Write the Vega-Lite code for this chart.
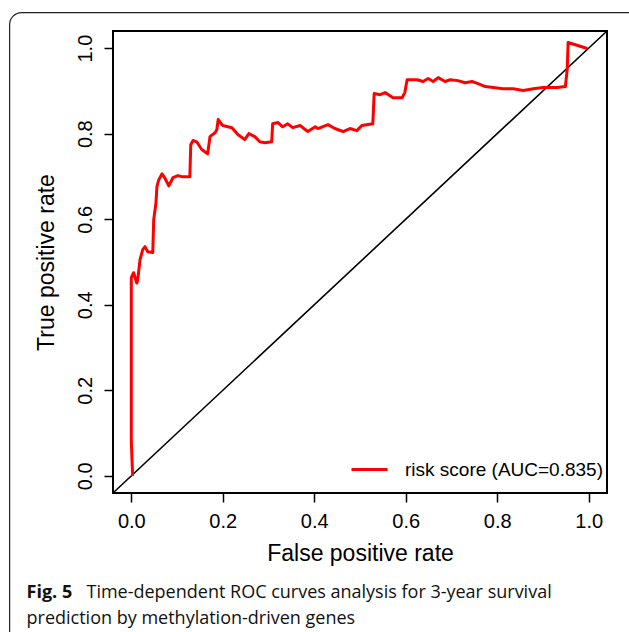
{
  "$schema": "https://vega.github.io/schema/vega-lite/v6.json",
  "autosize": "none",
  "width": 494,
  "height": 462,
  "padding": {"left": 113, "top": 31, "right": 22, "bottom": 139},
  "background": "white",
  "config": {
    "view": {"stroke": "black", "strokeWidth": 2},
    "font": "Liberation Sans",
    "axis": {"grid": false, "domain": false, "tickColor": "black", "tickWidth": 1.5, "tickSize": 9, "labelColor": "black", "labelFont": "Liberation Sans", "labelFontSize": 20, "titleFont": "Liberation Sans", "titleFontSize": 23, "titleFontWeight": "normal", "titleColor": "black"}
  },
  "datasets": {
    "roc": [
      {"i": 1, "fpr": 0.003, "tpr": 0.0},
      {"i": 2, "fpr": 0.0, "tpr": 0.08},
      {"i": 3, "fpr": 0.0, "tpr": 0.463},
      {"i": 4, "fpr": 0.005, "tpr": 0.475},
      {"i": 5, "fpr": 0.012, "tpr": 0.451},
      {"i": 6, "fpr": 0.014, "tpr": 0.458},
      {"i": 7, "fpr": 0.019, "tpr": 0.505},
      {"i": 8, "fpr": 0.025, "tpr": 0.529},
      {"i": 9, "fpr": 0.03, "tpr": 0.536},
      {"i": 10, "fpr": 0.036, "tpr": 0.524},
      {"i": 11, "fpr": 0.047, "tpr": 0.522},
      {"i": 12, "fpr": 0.049, "tpr": 0.599},
      {"i": 13, "fpr": 0.054, "tpr": 0.639},
      {"i": 14, "fpr": 0.056, "tpr": 0.676},
      {"i": 15, "fpr": 0.06, "tpr": 0.692},
      {"i": 16, "fpr": 0.067, "tpr": 0.706},
      {"i": 17, "fpr": 0.073, "tpr": 0.697},
      {"i": 18, "fpr": 0.082, "tpr": 0.678},
      {"i": 19, "fpr": 0.091, "tpr": 0.697},
      {"i": 20, "fpr": 0.102, "tpr": 0.702},
      {"i": 21, "fpr": 0.113, "tpr": 0.699},
      {"i": 22, "fpr": 0.128, "tpr": 0.699},
      {"i": 23, "fpr": 0.13, "tpr": 0.774},
      {"i": 24, "fpr": 0.135, "tpr": 0.784},
      {"i": 25, "fpr": 0.143, "tpr": 0.781},
      {"i": 26, "fpr": 0.154, "tpr": 0.763},
      {"i": 27, "fpr": 0.167, "tpr": 0.753},
      {"i": 28, "fpr": 0.172, "tpr": 0.793},
      {"i": 29, "fpr": 0.183, "tpr": 0.802},
      {"i": 30, "fpr": 0.187, "tpr": 0.809},
      {"i": 31, "fpr": 0.19, "tpr": 0.833},
      {"i": 32, "fpr": 0.2, "tpr": 0.819},
      {"i": 33, "fpr": 0.22, "tpr": 0.814},
      {"i": 34, "fpr": 0.233, "tpr": 0.798},
      {"i": 35, "fpr": 0.248, "tpr": 0.786},
      {"i": 36, "fpr": 0.257, "tpr": 0.8},
      {"i": 37, "fpr": 0.27, "tpr": 0.793},
      {"i": 38, "fpr": 0.281, "tpr": 0.781},
      {"i": 39, "fpr": 0.292, "tpr": 0.779},
      {"i": 40, "fpr": 0.307, "tpr": 0.781},
      {"i": 41, "fpr": 0.309, "tpr": 0.823},
      {"i": 42, "fpr": 0.321, "tpr": 0.826},
      {"i": 43, "fpr": 0.331, "tpr": 0.816},
      {"i": 44, "fpr": 0.342, "tpr": 0.823},
      {"i": 45, "fpr": 0.353, "tpr": 0.814},
      {"i": 46, "fpr": 0.369, "tpr": 0.819},
      {"i": 47, "fpr": 0.386, "tpr": 0.805},
      {"i": 48, "fpr": 0.402, "tpr": 0.816},
      {"i": 49, "fpr": 0.408, "tpr": 0.812},
      {"i": 50, "fpr": 0.43, "tpr": 0.821},
      {"i": 51, "fpr": 0.445, "tpr": 0.812},
      {"i": 52, "fpr": 0.463, "tpr": 0.805},
      {"i": 53, "fpr": 0.478, "tpr": 0.812},
      {"i": 54, "fpr": 0.493, "tpr": 0.807},
      {"i": 55, "fpr": 0.504, "tpr": 0.819},
      {"i": 56, "fpr": 0.528, "tpr": 0.823},
      {"i": 57, "fpr": 0.531, "tpr": 0.894},
      {"i": 58, "fpr": 0.544, "tpr": 0.891},
      {"i": 59, "fpr": 0.555, "tpr": 0.896},
      {"i": 60, "fpr": 0.572, "tpr": 0.884},
      {"i": 61, "fpr": 0.592, "tpr": 0.884},
      {"i": 62, "fpr": 0.598, "tpr": 0.896},
      {"i": 63, "fpr": 0.603, "tpr": 0.926},
      {"i": 64, "fpr": 0.625, "tpr": 0.926},
      {"i": 65, "fpr": 0.638, "tpr": 0.922},
      {"i": 66, "fpr": 0.649, "tpr": 0.929},
      {"i": 67, "fpr": 0.66, "tpr": 0.922},
      {"i": 68, "fpr": 0.671, "tpr": 0.931},
      {"i": 69, "fpr": 0.686, "tpr": 0.922},
      {"i": 70, "fpr": 0.697, "tpr": 0.926},
      {"i": 71, "fpr": 0.714, "tpr": 0.924},
      {"i": 72, "fpr": 0.73, "tpr": 0.919},
      {"i": 73, "fpr": 0.745, "tpr": 0.922},
      {"i": 74, "fpr": 0.758, "tpr": 0.917},
      {"i": 75, "fpr": 0.774, "tpr": 0.91},
      {"i": 76, "fpr": 0.791, "tpr": 0.908},
      {"i": 77, "fpr": 0.813, "tpr": 0.905},
      {"i": 78, "fpr": 0.835, "tpr": 0.905},
      {"i": 79, "fpr": 0.857, "tpr": 0.901},
      {"i": 80, "fpr": 0.879, "tpr": 0.905},
      {"i": 81, "fpr": 0.9, "tpr": 0.908},
      {"i": 82, "fpr": 0.931, "tpr": 0.908},
      {"i": 83, "fpr": 0.949, "tpr": 0.91},
      {"i": 84, "fpr": 0.953, "tpr": 0.95},
      {"i": 85, "fpr": 0.955, "tpr": 1.013},
      {"i": 86, "fpr": 0.997, "tpr": 0.999}
    ],
    "diag": [{"fpr": -0.04, "tpr": -0.04}, {"fpr": 1.04, "tpr": 1.04}],
    "caption": [
      {"cx": -0.229, "cy": -0.285, "txt": "Fig. 5", "w": "bold"},
      {"cx": -0.098, "cy": -0.285, "txt": "Time-dependent ROC curves analysis for 3-year survival", "w": "normal"},
      {"cx": -0.229, "cy": -0.346, "txt": "prediction by methylation-driven genes", "w": "normal"}
    ],
    "frame": [{"x1": -0.266, "x2": 1.12, "y1": 1.083, "y2": -0.4}]
  },
  "layer": [
    {
      "data": {"name": "frame"},
      "mark": {"type": "rect", "fill": null, "fillOpacity": 0, "stroke": "#222222", "strokeWidth": 1.2, "cornerRadius": 12, "clip": false},
      "encoding": {
        "x": {"field": "x1", "type": "quantitative", "scale": {"domain": [-0.04, 1.04], "nice": false, "zero": false}},
        "x2": {"field": "x2"},
        "y": {"field": "y1", "type": "quantitative", "scale": {"domain": [-0.04, 1.04], "nice": false, "zero": false}},
        "y2": {"field": "y2"}
      }
    },
    {
      "data": {"name": "diag"},
      "mark": {"type": "line", "color": "black", "strokeWidth": 1.6},
      "encoding": {
        "x": {"field": "fpr", "type": "quantitative"},
        "y": {"field": "tpr", "type": "quantitative"}
      }
    },
    {
      "data": {"name": "roc"},
      "transform": [{"calculate": "'risk score (AUC=0.835)'", "as": "series"}],
      "mark": {"type": "line", "strokeWidth": 3, "strokeJoin": "round"},
      "encoding": {
        "x": {"field": "fpr", "type": "quantitative",
          "axis": {"values": [0, 0.2, 0.4, 0.6, 0.8, 1.0], "format": ".1f", "title": "False positive rate", "labelPadding": 9, "titlePadding": 11}},
        "y": {"field": "tpr", "type": "quantitative",
          "axis": {"values": [0, 0.2, 0.4, 0.6, 0.8, 1.0], "format": ".1f", "title": "True positive rate", "labelAngle": -90, "labelAlign": "center", "labelBaseline": "bottom", "labelPadding": 9, "titlePadding": 17}},
        "order": {"field": "i", "type": "quantitative"},
        "color": {"field": "series", "type": "nominal", "scale": {"range": ["#ff0000"]},
          "legend": {"title": null, "orient": "none", "legendX": 237, "legendY": 419, "symbolType": "stroke", "symbolStrokeWidth": 3, "symbolSize": 1296, "labelFontSize": 19, "labelFont": "Liberation Sans", "labelColor": "black", "labelOffset": 16, "labelLimit": 0}}
      }
    },
    {
      "data": {"name": "caption"},
      "transform": [{"filter": "datum.w === 'bold'"}],
      "mark": {"type": "text", "align": "left", "baseline": "alphabetic", "font": "Open Sans", "fontSize": 18, "fontWeight": "bold", "color": "#111111", "clip": false},
      "encoding": {
        "x": {"field": "cx", "type": "quantitative"},
        "y": {"field": "cy", "type": "quantitative"},
        "text": {"field": "txt"}
      }
    },
    {
      "data": {"name": "caption"},
      "transform": [{"filter": "datum.w === 'normal'"}],
      "mark": {"type": "text", "align": "left", "baseline": "alphabetic", "font": "Open Sans", "fontSize": 18, "fontWeight": "normal", "color": "#111111", "clip": false},
      "encoding": {
        "x": {"field": "cx", "type": "quantitative"},
        "y": {"field": "cy", "type": "quantitative"},
        "text": {"field": "txt"}
      }
    }
  ]
}
